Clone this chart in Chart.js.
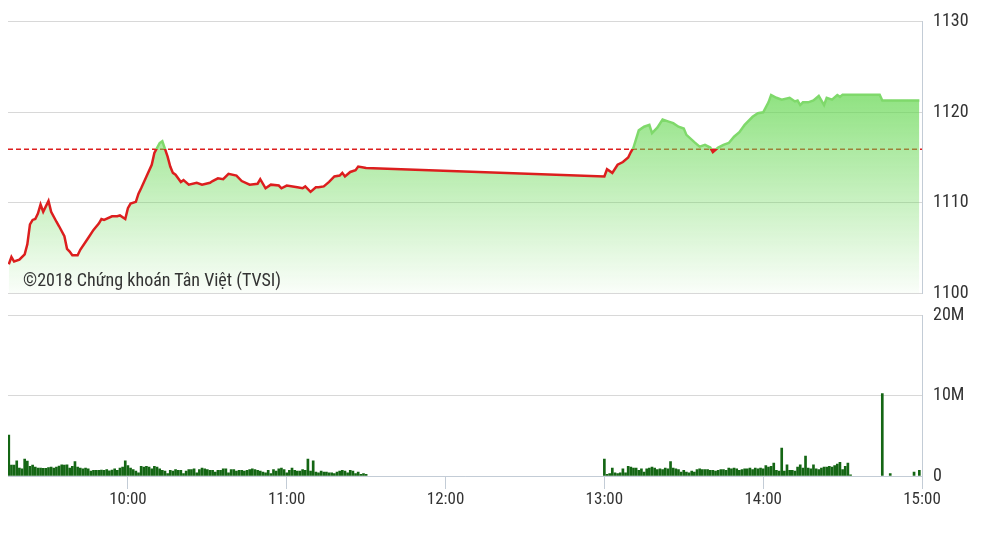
<!DOCTYPE html>
<html>
<head>
<meta charset="utf-8">
<script src="https://cdn.jsdelivr.net/npm/chart.js@4.4.1/dist/chart.umd.min.js"></script>
<style>
  html, body { margin: 0; padding: 0; background: #fff; }
  #wrap { position: relative; width: 983px; height: 552px; overflow: hidden; }
  #priceBox { position: absolute; left: 0; top: 0; width: 983px; height: 315px; }
  #volBox { position: absolute; left: 0; top: 294px; width: 983px; height: 258px; }
  #mark {
    position: absolute; left: 23px; top: 270px;
    font: 18px "Liberation Sans Narrow", "Roboto Condensed", "Arial Narrow", Roboto, sans-serif;
    color: #333; white-space: nowrap; line-height: 20px;
  }
</style>
</head>
<body>
<div id="wrap">
  <div id="priceBox"><canvas id="price"></canvas></div>
  <div id="volBox"><canvas id="vol"></canvas></div>
  <div id="mark">©2018 Chứng khoán Tân Việt (TVSI)</div>
</div>
<script>
// VN-Index intraday, reference level = previous close
const refLevel = 1115.9;

const priceTimes = [
  "09:15","09:16","09:17","09:19","09:21","09:22","09:23","09:24","09:25","09:26",
  "09:27","09:28","09:29","09:30","09:31","09:33","09:34","09:36","09:37","09:38",
  "09:39","09:41","09:42","09:45","09:47","09:49","09:50","09:51","09:54","09:56",
  "09:57","09:59","10:00","10:01","10:03","10:04","10:05","10:07","10:09","10:10",
  "10:12","10:13","10:15","10:16","10:17","10:18","10:20","10:21","10:23","10:26",
  "10:28","10:31","10:32","10:34","10:36","10:38","10:41","10:43","10:46","10:49",
  "10:50","10:52","10:54","10:57","10:58","11:00","11:04","11:06","11:07","11:09",
  "11:11","11:12","11:14","11:16","11:18","11:20","11:21","11:22","11:24","11:26",
  "11:27","11:29","11:30",
  "13:00","13:01","13:03","13:05","13:07","13:09","13:10","13:11","13:13","13:15",
  "13:17","13:18","13:20","13:22","13:24","13:26","13:28","13:30","13:31","13:34",
  "13:36","13:38","13:40","13:41","13:43","13:45","13:47","13:49","13:51","13:53",
  "13:56","13:58","14:00","14:02","14:03","14:05","14:07","14:10","14:12","14:13",
  "14:14","14:15","14:17","14:19","14:21","14:23","14:24","14:26","14:28","14:29",
  "14:30","14:44","14:45","14:59"
];
const priceValues = [
  1103.2,1104.0,1103.5,1103.7,1104.3,1105.4,1107.6,1108.1,1108.2,1108.8,
  1109.8,1109.0,1109.6,1110.2,1109.0,1107.9,1107.4,1106.3,1104.9,1104.6,
  1104.2,1104.2,1104.8,1106.1,1107.0,1107.7,1108.2,1108.1,1108.5,1108.5,
  1108.6,1108.2,1109.4,1109.9,1110.1,1111.0,1111.6,1112.9,1114.2,1115.5,
  1116.6,1116.8,1115.1,1114.0,1113.3,1113.1,1112.3,1112.5,1112.0,1112.2,
  1112.0,1112.2,1112.4,1112.7,1112.6,1113.2,1113.0,1112.4,1112.0,1112.1,
  1112.6,1111.6,1112.0,1111.9,1111.6,1111.9,1111.7,1111.6,1111.8,1111.2,
  1111.7,1111.7,1111.8,1112.3,1112.9,1113.0,1113.3,1112.9,1113.4,1113.6,
  1114.0,1113.9,1113.85,
  1112.9,1113.7,1113.3,1114.2,1114.5,1115.0,1115.6,1116.1,1118.0,1118.4,
  1118.6,1117.7,1118.3,1119.2,1119.0,1118.8,1118.4,1118.2,1117.5,1116.7,
  1116.2,1116.4,1116.1,1115.6,1116.1,1116.4,1116.6,1117.3,1117.8,1118.6,
  1119.5,1119.9,1120.0,1121.1,1121.9,1121.6,1121.4,1121.6,1121.2,1121.3,
  1120.8,1121.1,1121.1,1121.3,1121.8,1120.8,1121.6,1121.4,1121.9,1121.7,
  1121.95,1121.95,1121.3,1121.3
];

// volume per minute, millions of shares
const volMorningStart = "09:15";
const volMorning = [
  5.1,1.35,1.35,1.9,1.0,0.9,2.1,1.85,1.2,1.35,
  1.1,1.0,1.0,0.95,0.95,1.05,1.1,1.0,1.1,1.25,
  1.4,1.35,1.4,1.0,1.2,1.8,1.1,1.0,0.9,1.0,
  0.9,0.6,0.7,0.7,0.7,0.75,0.7,0.8,0.65,0.75,
  0.9,0.7,1.0,1.1,1.9,1.3,1.0,0.8,0.6,0.4,
  1.2,1.1,1.2,1.1,0.9,1.2,1.1,0.9,0.7,0.6,
  0.3,0.7,0.6,0.8,0.7,0.7,0.3,0.6,0.8,0.8,
  0.9,0.4,0.8,1.0,0.9,0.8,0.7,0.7,0.5,0.7,
  0.7,0.9,0.9,0.4,0.8,0.8,0.6,0.7,0.7,0.6,
  0.7,0.8,0.9,0.8,0.7,0.6,0.5,0.4,0.7,0.3,
  0.8,0.6,0.9,1.0,0.8,0.4,0.7,1.0,0.7,0.6,
  0.6,0.8,0.7,2.1,0.6,1.9,0.5,0.4,0.6,0.5,
  0.5,0.4,0.4,0.3,0.5,0.6,0.7,0.6,0.4,0.7,
  0.6,0.3,0.5,0.2,0.3,0.2
];
const volAfternoonStart = "13:00";
const volAfternoon = [
  2.1,0.2,0.3,1.0,0.4,0.3,0.4,0.9,0.4,1.2,
  1.1,1.0,1.0,0.7,0.9,0.5,0.9,1.0,1.1,1.0,
  0.8,0.9,0.8,1.0,0.9,1.8,1.0,0.9,0.8,0.5,
  0.7,0.5,0.4,0.6,0.5,0.8,0.9,0.8,0.8,0.8,
  0.7,0.7,0.6,0.7,0.8,0.8,0.7,1.0,0.9,1.0,
  0.9,0.7,0.8,0.9,0.9,1.0,0.8,1.0,0.9,1.0,
  0.9,1.3,1.1,1.2,1.6,0.7,0.6,3.5,0.6,1.4,
  0.7,0.7,0.6,1.1,1.4,1.0,2.5,1.0,0.9,1.4,
  0.9,0.8,1.0,1.1,1.1,1.2,1.1,1.3,1.5,1.7,
  0.8,1.2,1.6,0.15
];
const volLateTimes = ["14:45","14:48","14:57","14:59"];
const volLate = [10.3,0.3,0.5,0.7];

const hourTicks = ["10:00","11:00","12:00","13:00","14:00","15:00"];
const volTicks = [0, 10, 20];
const priceTicks = [1100, 1110, 1120, 1130];

const toMin = s => { const [h, m] = s.split(":").map(Number); return h * 60 + m; };
const xMin = toMin("09:15") - 0.3;
const xMax = toMin("15:00");

const labelFont = { family: "'Liberation Sans Narrow', 'Roboto Condensed', 'Arial Narrow', Roboto, sans-serif", size: 18 };
const gridColor = "#d8d8d8";
const axisColor = "#c3ccd6";
const red = "#dc1e1e";
const greenEdge = "#7fd96b";

const pricePoints = priceTimes.map((t, i) => ({ x: toMin(t), y: priceValues[i] }));

const volPoints = [];
volMorning.forEach((v, i) => volPoints.push({ x: toMin(volMorningStart) + i, y: v * 1e6 }));
volAfternoon.forEach((v, i) => volPoints.push({ x: toMin(volAfternoonStart) + i, y: v * 1e6 }));
volLate.forEach((v, i) => volPoints.push({ x: toMin(volLateTimes[i]), y: v * 1e6 }));

function lineGradient(context) {
  const chart = context.chart;
  const area = chart.chartArea;
  if (!area) return red;
  const yRef = chart.scales.y.getPixelForValue(refLevel);
  const f = Math.min(1, Math.max(0, (yRef - area.top) / (area.bottom - area.top)));
  const g = chart.ctx.createLinearGradient(0, area.top, 0, area.bottom);
  g.addColorStop(0, greenEdge);
  g.addColorStop(f, greenEdge);
  g.addColorStop(f, red);
  g.addColorStop(1, red);
  return g;
}

function fillGradient(context) {
  const chart = context.chart;
  const area = chart.chartArea;
  if (!area) return "rgba(100,215,80,0.5)";
  const g = chart.ctx.createLinearGradient(0, area.top, 0, area.bottom);
  g.addColorStop(0, "rgba(100,215,80,0.97)");
  g.addColorStop(1, "rgba(100,215,80,0.03)");
  return g;
}

new Chart(document.getElementById("price"), {
  type: "line",
  data: {
    datasets: [
      {
        data: pricePoints,
        borderColor: lineGradient,
        backgroundColor: fillGradient,
        borderWidth: 2.5,
        fill: "start",
        pointRadius: 0,
        tension: 0,
        order: 1
      },
      {
        data: [{ x: xMin, y: refLevel }, { x: xMax, y: refLevel }],
        borderColor: red,
        borderWidth: 1.5,
        borderDash: [5, 3],
        pointRadius: 0,
        fill: false,
        order: 2
      }
    ]
  },
  options: {
    responsive: true,
    maintainAspectRatio: false,
    animation: false,
    layout: { padding: { left: 8, top: 19, bottom: 8, right: 0 } },
    plugins: { legend: { display: false }, tooltip: { enabled: false } },
    scales: {
      x: { type: "linear", min: xMin, max: xMax, display: false },
      y: {
        position: "right",
        min: 1100,
        max: 1130,
        afterFit: s => { s.width = 61; },
        afterBuildTicks: s => { s.ticks = priceTicks.map(v => ({ value: v })); },
        grid: { color: gridColor, drawTicks: false },
        border: { color: axisColor },
        ticks: { font: labelFont, color: "#333", padding: 11, callback: v => String(v) }
      }
    }
  }
});

new Chart(document.getElementById("vol"), {
  type: "bar",
  data: {
    datasets: [{
      data: volPoints,
      backgroundColor: "#146614",
      barThickness: 2,
      borderWidth: 0
    }]
  },
  options: {
    responsive: true,
    maintainAspectRatio: false,
    animation: false,
    layout: { padding: { left: 8, top: 15, bottom: 0, right: 0 } },
    plugins: { legend: { display: false }, tooltip: { enabled: false } },
    scales: {
      x: {
        type: "linear",
        min: xMin,
        max: xMax,
        offset: false,
        afterFit: s => { s.height = 76; },
        afterBuildTicks: s => { s.ticks = hourTicks.map(t => ({ value: toMin(t) })); },
        grid: { offset: false, drawOnChartArea: false, color: axisColor, tickLength: 13 },
        border: { color: axisColor },
        ticks: {
          font: { ...labelFont, size: 17 },
          color: "#333",
          padding: 1,
          maxRotation: 0,
          autoSkip: false,
          callback: v => {
            const h = Math.floor(v / 60), m = v % 60;
            return h + ":" + String(m).padStart(2, "0");
          }
        }
      },
      y: {
        position: "right",
        min: 0,
        max: 20e6,
        afterFit: s => { s.width = 61; },
        afterBuildTicks: s => { s.ticks = volTicks.map(v => ({ value: v * 1e6 })); },
        grid: { color: gridColor, drawTicks: false },
        border: { color: axisColor },
        ticks: {
          font: labelFont,
          color: "#333",
          padding: 11,
          callback: v => v === 0 ? "0" : (v / 1e6) + "M"
        }
      }
    }
  }
});
</script>
</body>
</html>
